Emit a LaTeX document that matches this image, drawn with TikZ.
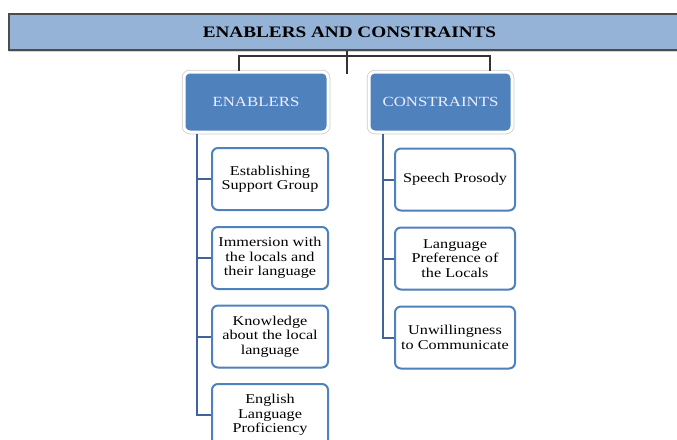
\documentclass[tikz,border=0pt]{standalone}
\usepackage{fontspec}
\setmainfont[FakeStretch=1.2]{Liberation Serif}
\usetikzlibrary{shadows}
\definecolor{barblue}{RGB}{149,179,215}
\definecolor{boxblue}{RGB}{79,129,189}
\definecolor{spineblue}{RGB}{62,100,155}

\tikzset{
  titlebar/.style={fill=barblue, draw=black!70, line width=1.2pt, minimum width=681pt,
    minimum height=36pt, inner sep=0pt, font=\fontsize{16}{19}\selectfont\bfseries,
    drop shadow={shadow xshift=0pt, shadow yshift=-1.5pt, opacity=0.35}},
  headbox/.style={fill=boxblue, rounded corners=6pt, preaction={draw=black!20, line width=4.5pt},
    draw=white, line width=3pt, minimum width=144pt, minimum height=60pt,
    text=white!93!blue, font=\fontsize{14}{17}\selectfont},
  itembox/.style={fill=white, draw=boxblue, line width=2pt, rounded corners=6pt,
    minimum height=62pt, align=center, inner sep=2pt, font=\fontsize{13.5}{14.3}\selectfont,
    drop shadow={shadow xshift=0.8pt, shadow yshift=-0.8pt, opacity=0.3}},
  conn/.style={draw=black!80, line width=1.2pt},
  spine/.style={draw=spineblue, line width=2pt}
}

\begin{document}
\begin{tikzpicture}[x=1pt,y=-1pt]
  \useasboundingbox (0,0) rectangle (677,439);

  \node[titlebar] (title) at (349.5,32) {ENABLERS AND CONSTRAINTS};

  \node[headbox] (enab) at (256,102) {ENABLERS};
  \node[headbox, minimum width=143pt] (cons) at (440.5,102) {CONSTRAINTS};

  % enablers
  \node[itembox, minimum width=116pt] (e1) at (270,179) {Establishing\\Support Group};
  \node[itembox, minimum width=116pt] (e2) at (270,258) {Immersion with\\the locals and\\their language};
  \node[itembox, minimum width=116pt] (e3) at (270,336.5) {Knowledge\\about the local\\language};
  \node[itembox, minimum width=116pt] (e4) at (270,415) {English\\Language\\Proficiency};

  % constraints
  \node[itembox, minimum width=120pt] (c1) at (455,179.5) {Speech Prosody};
  \node[itembox, minimum width=120pt] (c2) at (455,258.5) {Language\\Preference of\\the Locals};
  \node[itembox, minimum width=120pt] (c3) at (455,337.5) {Unwillingness\\to Communicate};

  \coordinate (hub) at (347,74);
  \coordinate (lj) at (239,56);
  \coordinate (rj) at (490,56);
  \draw[conn] (title.south -| hub) -- (hub);
  \draw[conn] (enab.north -| lj) -- (lj) -- (rj) -- (cons.north -| rj);

  \coordinate (lsp) at (197,0);
  \coordinate (rsp) at (383,0);
  \draw[spine] (enab.south -| lsp) |- (e4.west);
  \draw[spine] (e1.west -| lsp) -- (e1.west);
  \draw[spine] (e2.west -| lsp) -- (e2.west);
  \draw[spine] (e3.west -| lsp) -- (e3.west);

  \draw[spine] (cons.south -| rsp) |- (c3.west);
  \draw[spine] (c1.west -| rsp) -- (c1.west);
  \draw[spine] (c2.west -| rsp) -- (c2.west);
\end{tikzpicture}
\end{document}
